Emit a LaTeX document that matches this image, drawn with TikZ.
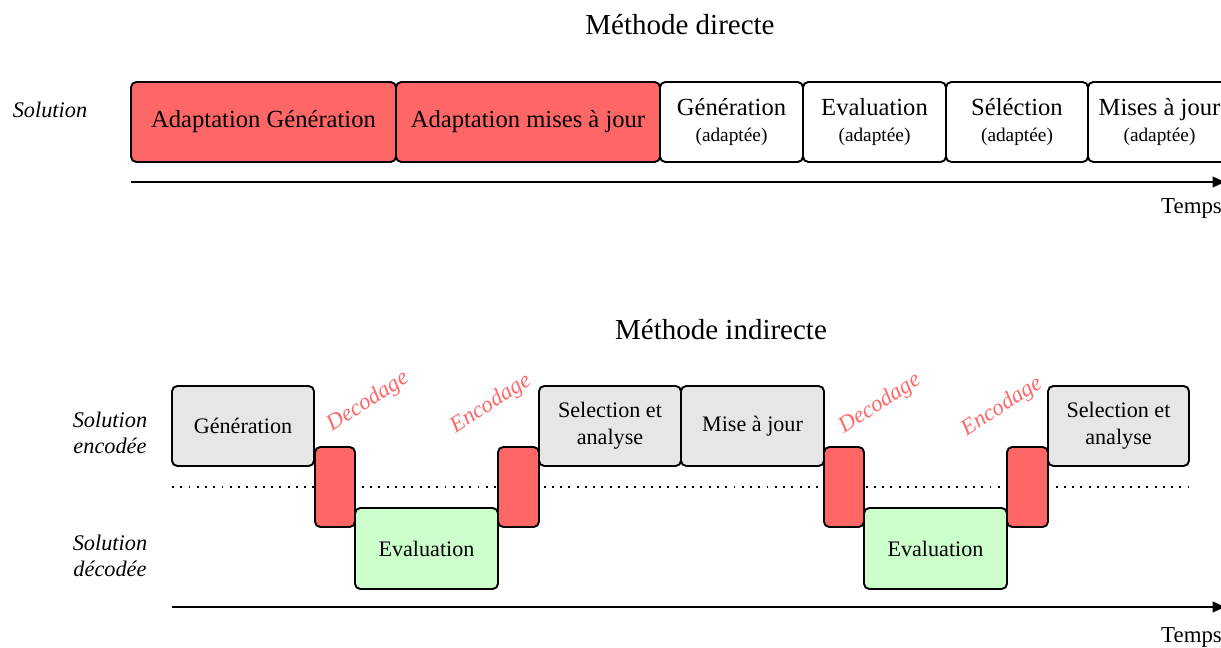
\documentclass[tikz,border=0pt]{standalone}
\usepackage{fontspec}
\setmainfont{Liberation Serif}
\usetikzlibrary{arrows.meta}
\definecolor{rouge}{HTML}{FF6666}
\definecolor{gris}{HTML}{E6E6E6}
\definecolor{vert}{HTML}{CCFFCC}
\tikzset{
  boite/.style={draw, line width=1.1pt, rounded corners=3pt, inner sep=0pt,
    minimum height=1.6cm, align=center},
  grande/.style={boite, font=\fontsize{14}{16}\selectfont},
  petite/.style={boite, font=\fontsize{12.6}{15.5}\selectfont},
  codage/.style={text=rouge, rotate=33, inner sep=0pt, font=\itshape\fontsize{13}{15}\selectfont},
  axe/.style={line width=1.1pt, -{Triangle[length=7pt,width=6pt]}},
  titre/.style={font=\fontsize{16.5}{19}\selectfont},
  etiq/.style={font=\itshape\fontsize{12.7}{15.2}\selectfont, align=center}
}
\begin{document}
\begin{tikzpicture}[x=0.02cm,y=-0.02cm]
  \useasboundingbox (0,0) rectangle (1221,648);
  % methode directe
  \node[titre] (titre1) at (680,25) {Méthode directe};
  \node[etiq] (sol) at (50,110) {Solution};
  \node[grande, fill=rouge, minimum width=5.3cm] (adgen) at (263.5,122) {Adaptation Génération};
  \node[grande, fill=rouge, minimum width=5.28cm] (admaj) at (528,122) {Adaptation mises à jour};
  \node[grande, minimum width=2.86cm] (gen) at (731.5,122) {Génération\\[-1pt]{\fontsize{11}{13}\selectfont(adaptée)}};
  \node[grande, minimum width=2.86cm] (eval) at (874.5,122) {Evaluation\\[-1pt]{\fontsize{11}{13}\selectfont(adaptée)}};
  \node[grande, minimum width=2.84cm] (sel) at (1017,122) {Séléction\\[-1pt]{\fontsize{11}{13}\selectfont(adaptée)}};
  \node[grande, minimum width=2.86cm] (maj) at (1159.5,122) {Mises à jour\\[-1pt]{\fontsize{11}{13}\selectfont(adaptée)}};
  \coordinate (t1a) at (131,182);
  \coordinate (t1b) at (1225,182);
  \draw[axe] (t1a) -- (t1b);
  \node[font=\fontsize{13}{15}\selectfont, anchor=east] (temps1) at (1228,208) {Temps};

  % methode indirecte
  \node[titre] (titre2) at (721,330) {Méthode indirecte};
  \node[etiq] (solenc) at (110,433) {Solution\\encodée};
  \node[etiq] (soldec) at (110,556) {Solution\\décodée};
  \coordinate (pa) at (172,487);
  \coordinate (pb) at (1189,487);
  \draw[line width=1.1pt, dash pattern=on 1.1pt off 3.6pt] (pa) -- (pb);
  \node[petite, fill=gris, minimum width=2.84cm] (gen2) at (243,426) {Génération};
  \node[petite, fill=rouge, minimum width=0.8cm] (dec1) at (335,487) {};
  \node[petite, fill=vert, minimum width=2.86cm, minimum height=1.62cm] (eval1) at (426.5,548.5) {Evaluation};
  \node[petite, fill=rouge, minimum width=0.82cm] (enc1) at (518.5,487) {};
  \node[petite, fill=gris, minimum width=2.84cm] (sel1) at (610,426) {Selection et\\analyse};
  \node[petite, fill=gris, minimum width=2.86cm] (maj2) at (752.5,426) {Mise à jour};
  \node[petite, fill=rouge, minimum width=0.8cm] (dec2) at (844,487) {};
  \node[petite, fill=vert, minimum width=2.86cm, minimum height=1.62cm] (eval2) at (935.5,548.5) {Evaluation};
  \node[petite, fill=rouge, minimum width=0.82cm] (enc2) at (1027.5,487) {};
  \node[petite, fill=gris, minimum width=2.82cm] (sel2) at (1118.5,426) {Selection et\\analyse};
  \node[codage] (lbdec1) at (368,402) {Decodage};
  \node[codage] (lbenc1) at (491,404) {Encodage};
  \node[codage] (lbdec2) at (880,404) {Decodage};
  \node[codage] (lbenc2) at (1002,407) {Encodage};
  \coordinate (t2a) at (172,607);
  \coordinate (t2b) at (1225,607);
  \draw[axe] (t2a) -- (t2b);
  \node[font=\fontsize{13}{15}\selectfont, anchor=east] (temps2) at (1228,637) {Temps};
\end{tikzpicture}
\end{document}
